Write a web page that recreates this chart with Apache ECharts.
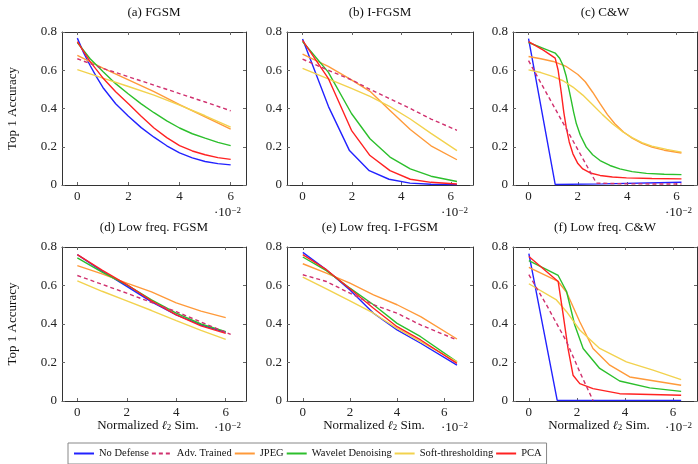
<!DOCTYPE html>
<html>
<head>
<meta charset="UTF-8">
<title>Defenses vs attacks</title>
<script src="https://cdn.jsdelivr.net/npm/echarts@6/dist/echarts.min.js"></script>
<style>html,body{margin:0;padding:0;background:#fff;}</style>
</head>
<body>
<div id="main" style="width:698px;height:464px;"></div>
<script>
// series names (legend order)
var names = ['No Defense', 'Adv. Trained', 'JPEG', 'Wavelet Denoising', 'Soft-thresholding', 'PCA'];
var panelTitles = ['(a) FGSM', '(b) I-FGSM', '(c) C&W', '(d) Low freq. FGSM', '(e) Low freq. I-FGSM', '(f) Low freq. C&W'];
var xTicks = [0, 2, 4, 6];

// (a) FGSM  -- [x (·10^-2), top-1 accuracy]
var fgsm_none = [[0,0.768],[0.25,0.69],[0.5,0.625],[0.75,0.565],[1,0.51],[1.5,0.425],[2,0.36],[2.5,0.3],[3,0.25],[3.5,0.205],[4,0.168],[4.5,0.142],[5,0.123],[5.5,0.112],[6,0.105]];
var fgsm_adv = [[0,0.66],[1,0.61],[2,0.566],[3,0.522],[4,0.478],[5,0.434],[6,0.388]];
var fgsm_jpeg = [[0,0.678],[1,0.611],[2,0.55],[3,0.488],[4,0.42],[5,0.356],[6,0.292]];
var fgsm_wav = [[0,0.745],[0.5,0.66],[1,0.594],[1.5,0.53],[2,0.476],[2.5,0.424],[3,0.378],[3.5,0.335],[4,0.298],[4.5,0.268],[5,0.245],[5.5,0.223],[6,0.206]];
var fgsm_soft = [[0,0.603],[1,0.559],[2,0.515],[3,0.47],[4,0.418],[5,0.362],[6,0.303]];
var fgsm_pca = [[0,0.75],[0.5,0.645],[1,0.56],[1.5,0.488],[2,0.425],[2.5,0.36],[3,0.298],[3.5,0.248],[4,0.206],[4.5,0.178],[5,0.158],[5.5,0.143],[6,0.134]];

// (b) I-FGSM
var ifgsm_none = [[0,0.763],[1.05,0.41],[1.9,0.18],[2.7,0.075],[3.5,0.03],[4.35,0.01],[5.2,0.004],[6.25,0.002]];
var ifgsm_adv = [[0,0.658],[1.04,0.6],[1.98,0.55],[2.73,0.5],[3.54,0.45],[4.36,0.4],[5.2,0.345],[6.25,0.286]];
var ifgsm_jpeg = [[0,0.684],[1.04,0.62],[1.98,0.55],[2.73,0.49],[3.54,0.39],[4.36,0.29],[5.2,0.205],[6.25,0.132]];
var ifgsm_wav = [[0,0.75],[1.04,0.59],[1.98,0.374],[2.73,0.242],[3.54,0.146],[4.36,0.084],[5.2,0.046],[6.25,0.018]];
var ifgsm_soft = [[0,0.61],[1.04,0.555],[1.98,0.505],[2.73,0.463],[3.54,0.41],[4.36,0.345],[5.2,0.27],[6.25,0.18]];
var ifgsm_pca = [[0,0.756],[1.04,0.558],[1.98,0.286],[2.73,0.154],[3.54,0.075],[4.36,0.03],[5.2,0.014],[6.25,0.005]];

// (c) C&W
var cw_none = [[0,0.765],[1.08,0.003],[3,0.006],[6.2,0.014]];
var cw_adv = [[0,0.65],[2.75,0.01],[4,0.006],[6.2,0.005]];
var cw_jpeg = [[0,0.672],[0.5,0.66],[1,0.646],[1.5,0.622],[2,0.578],[2.3,0.54],[2.6,0.485],[2.9,0.425],[3.2,0.368],[3.5,0.32],[3.85,0.277],[4.2,0.245],[4.6,0.218],[5,0.198],[5.5,0.182],[6.2,0.167]];
var cw_wav = [[0,0.745],[0.5,0.72],[1.08,0.69],[1.26,0.663],[1.4,0.625],[1.53,0.567],[1.63,0.505],[1.73,0.444],[1.83,0.38],[1.94,0.32],[2.1,0.26],[2.34,0.198],[2.6,0.158],[2.9,0.128],[3.3,0.102],[3.7,0.084],[4.2,0.07],[4.78,0.061],[5.5,0.056],[6.2,0.054]];
var cw_soft = [[0,0.602],[0.5,0.588],[1,0.567],[1.4,0.545],[1.8,0.512],[2.2,0.47],[2.6,0.42],[3,0.368],[3.4,0.32],[3.83,0.277],[4.2,0.248],[4.6,0.222],[5,0.203],[5.6,0.186],[6.2,0.172]];
var cw_pca = [[0,0.75],[0.6,0.705],[1.08,0.663],[1.2,0.6],[1.33,0.48],[1.43,0.38],[1.53,0.3],[1.65,0.225],[1.8,0.163],[2,0.112],[2.2,0.084],[2.5,0.063],[2.9,0.05],[3.4,0.042],[3.97,0.037],[5,0.034],[6.2,0.032]];

// (d) Low freq. FGSM
var lfgsm_none = [[0,0.76],[1,0.675],[2,0.595],[3,0.515],[4,0.447],[5,0.395],[6,0.357]];
var lfgsm_adv = [[0,0.652],[2,0.56],[4,0.464],[6.2,0.346]];
var lfgsm_jpeg = [[0,0.703],[1,0.66],[2,0.612],[3,0.567],[4,0.51],[5,0.467],[6,0.433]];
var lfgsm_wav = [[0,0.743],[1,0.67],[2,0.603],[3,0.525],[4,0.456],[5,0.4],[6,0.36]];
var lfgsm_soft = [[0,0.624],[1,0.57],[2,0.52],[3,0.47],[4,0.418],[5,0.367],[6,0.32]];
var lfgsm_pca = [[0,0.76],[1,0.68],[2,0.605],[3,0.52],[4,0.447],[5,0.39],[6,0.351]];

// (e) Low freq. I-FGSM
var lifgsm_none = [[0,0.772],[1,0.682],[2,0.577],[3,0.456],[4,0.369],[5,0.3],[6.54,0.186]];
var lifgsm_adv = [[0,0.656],[1,0.621],[2,0.56],[3,0.5],[4,0.456],[5,0.395],[6.54,0.317]];
var lifgsm_jpeg = [[0,0.713],[1,0.664],[2,0.612],[3,0.551],[4,0.5],[5,0.438],[6.54,0.322]];
var lifgsm_wav = [[0,0.748],[1,0.677],[2,0.586],[3,0.5],[4,0.403],[5,0.334],[6.54,0.203]];
var lifgsm_soft = [[0,0.643],[1,0.583],[2,0.52],[3,0.456],[4,0.377],[5,0.308],[6.54,0.203]];
var lifgsm_pca = [[0,0.76],[1,0.682],[2,0.583],[3,0.482],[4,0.386],[5,0.317],[6.54,0.195]];

// (f) Low freq. C&W
var lcw_none = [[0,0.765],[1.18,0.003],[6.34,0.003]];
var lcw_adv = [[0,0.656],[0.73,0.5],[1.57,0.308],[2.12,0.151],[2.67,0.003]];
var lcw_jpeg = [[0,0.694],[1.22,0.621],[1.57,0.565],[2.12,0.412],[2.67,0.273],[3.37,0.186],[4.2,0.125],[6.34,0.082]];
var lcw_wav = [[0,0.729],[1.22,0.652],[1.57,0.569],[1.91,0.395],[2.26,0.273],[2.95,0.169],[3.78,0.104],[5.03,0.068],[6.34,0.05]];
var lcw_soft = [[0,0.609],[1.15,0.525],[1.57,0.464],[2.12,0.369],[2.95,0.273],[4.06,0.203],[5.17,0.16],[6.34,0.111]];
var lcw_pca = [[0,0.751],[1.22,0.621],[1.43,0.447],[1.63,0.273],[1.84,0.134],[2.12,0.09],[2.67,0.064],[3.78,0.038],[6.34,0.03]];

var panelData = [
  [fgsm_none, fgsm_adv, fgsm_jpeg, fgsm_wav, fgsm_soft, fgsm_pca],
  [ifgsm_none, ifgsm_adv, ifgsm_jpeg, ifgsm_wav, ifgsm_soft, ifgsm_pca],
  [cw_none, cw_adv, cw_jpeg, cw_wav, cw_soft, cw_pca],
  [lfgsm_none, lfgsm_adv, lfgsm_jpeg, lfgsm_wav, lfgsm_soft, lfgsm_pca],
  [lifgsm_none, lifgsm_adv, lifgsm_jpeg, lifgsm_wav, lifgsm_soft, lifgsm_pca],
  [lcw_none, lcw_adv, lcw_jpeg, lcw_wav, lcw_soft, lcw_pca]
];
var xRanges = [[-0.6, 6.6], [-0.63, 6.9], [-0.63, 6.83], [-0.62, 6.82], [-0.67, 7.22], [-0.66, 7.0]];

var colors = ['#2222ff', '#d0306e', '#ff9a3a', '#2cbf2c', '#f2d24e', '#ff2222'];

var FONT = 'Liberation Serif';
var gridPos = [
  {left: 62, top: 32, width: 184, height: 153},
  {left: 287, top: 32, width: 186, height: 153},
  {left: 513, top: 32, width: 184, height: 153},
  {left: 62, top: 247, width: 184, height: 154},
  {left: 287, top: 247, width: 186, height: 154},
  {left: 513, top: 247, width: 184, height: 154}
];

var chart = echarts.init(document.getElementById('main'), null, {renderer: 'canvas'});

var grids = [], xAxes = [], yAxes = [], series = [];
var axisLine = {show: true, onZero: false, lineStyle: {color: '#333', width: 1}};
gridPos.forEach(function (g, i) {
  grids.push({left: g.left, top: g.top, width: g.width, height: g.height, containLabel: false});
  ['bottom', 'top'].forEach(function (pos) {
    xAxes.push({
      type: 'value', gridIndex: i, position: pos, min: xRanges[i][0], max: xRanges[i][1],
      axisLine: axisLine,
      axisTick: {show: true, inside: true, length: 3, customValues: xTicks, lineStyle: {color: '#666'}},
      axisLabel: {show: pos === 'bottom', customValues: xTicks, margin: 5, fontFamily: FONT, fontSize: 13, color: '#222'},
      splitLine: {show: false}
    });
  });
  ['left', 'right'].forEach(function (pos) {
    yAxes.push({
      type: 'value', gridIndex: i, position: pos, min: 0, max: 0.8, interval: 0.2,
      axisLine: axisLine,
      axisTick: {show: true, inside: true, length: 3, lineStyle: {color: '#666'}},
      axisLabel: {show: pos === 'left', margin: 5, fontFamily: FONT, fontSize: 13, color: '#222'},
      splitLine: {show: false}
    });
  });
  panelData[i].forEach(function (d, k) {
    series.push({
      name: names[k], type: 'line', xAxisIndex: 2 * i, yAxisIndex: 2 * i,
      data: d, symbol: 'none', smooth: false,
      lineStyle: {color: colors[k], width: 1.4, type: k === 1 ? [4, 3] : 'solid'},
      itemStyle: {color: colors[k]},
      z: k === 1 ? 3 : 2
    });
  });
});

var graphics = [];
gridPos.forEach(function (g, i) {
  var cx = g.left + g.width / 2;
  graphics.push({type: 'text', x: cx, y: g.top - 19, style: {text: panelTitles[i], font: '13px "' + FONT + '"', fill: '#111', textAlign: 'center', textVerticalAlign: 'middle'}});
  // exponent label
  var ey = i < 3 ? g.top + g.height + 28 : g.top + g.height + 27;
  graphics.push({type: 'text', x: g.left + g.width - 32, y: ey, style: {
    text: '{a|·10}{s|−2}', textVerticalAlign: 'middle',
    rich: {a: {fontFamily: FONT, fontSize: 13, fill: '#111'}, s: {fontFamily: FONT, fontSize: 9, fill: '#111', verticalAlign: 'top'}}
  }});
  if (i >= 3) {
    graphics.push({type: 'text', x: cx - 6, y: g.top + g.height + 25, style: {
      text: 'Normalized {l|ℓ}{s|2} Sim.', textAlign: 'center', textVerticalAlign: 'middle',
      font: '13px "' + FONT + '"', fill: '#111',
      rich: {l: {fontFamily: 'DejaVu Serif', fontStyle: 'italic', fontSize: 12, fill: '#111'}, s: {fontFamily: FONT, fontSize: 9, fill: '#111', verticalAlign: 'bottom'}}
    }});
  }
  if (i === 0 || i === 3) {
    graphics.push({type: 'text', x: 13, y: g.top + g.height / 2, rotation: Math.PI / 2, style: {
      text: 'Top 1 Accuracy', font: '13px "' + FONT + '"', fill: '#111', textAlign: 'center', textVerticalAlign: 'middle'}});
  }
});

var option = {
  backgroundColor: '#fff',
  animation: false,
  grid: grids,
  xAxis: xAxes,
  yAxis: yAxes,
  legend: {
    data: names, left: 68, top: 443, itemWidth: 20, itemHeight: 10, itemGap: 2,
    padding: [5, 5], borderColor: '#888', borderWidth: 1,
    itemStyle: {opacity: 0},
    textStyle: {fontFamily: FONT, fontSize: 10.5, color: '#111'}
  },
  graphic: graphics,
  series: series
};
chart.setOption(option);
</script>
</body>
</html>
